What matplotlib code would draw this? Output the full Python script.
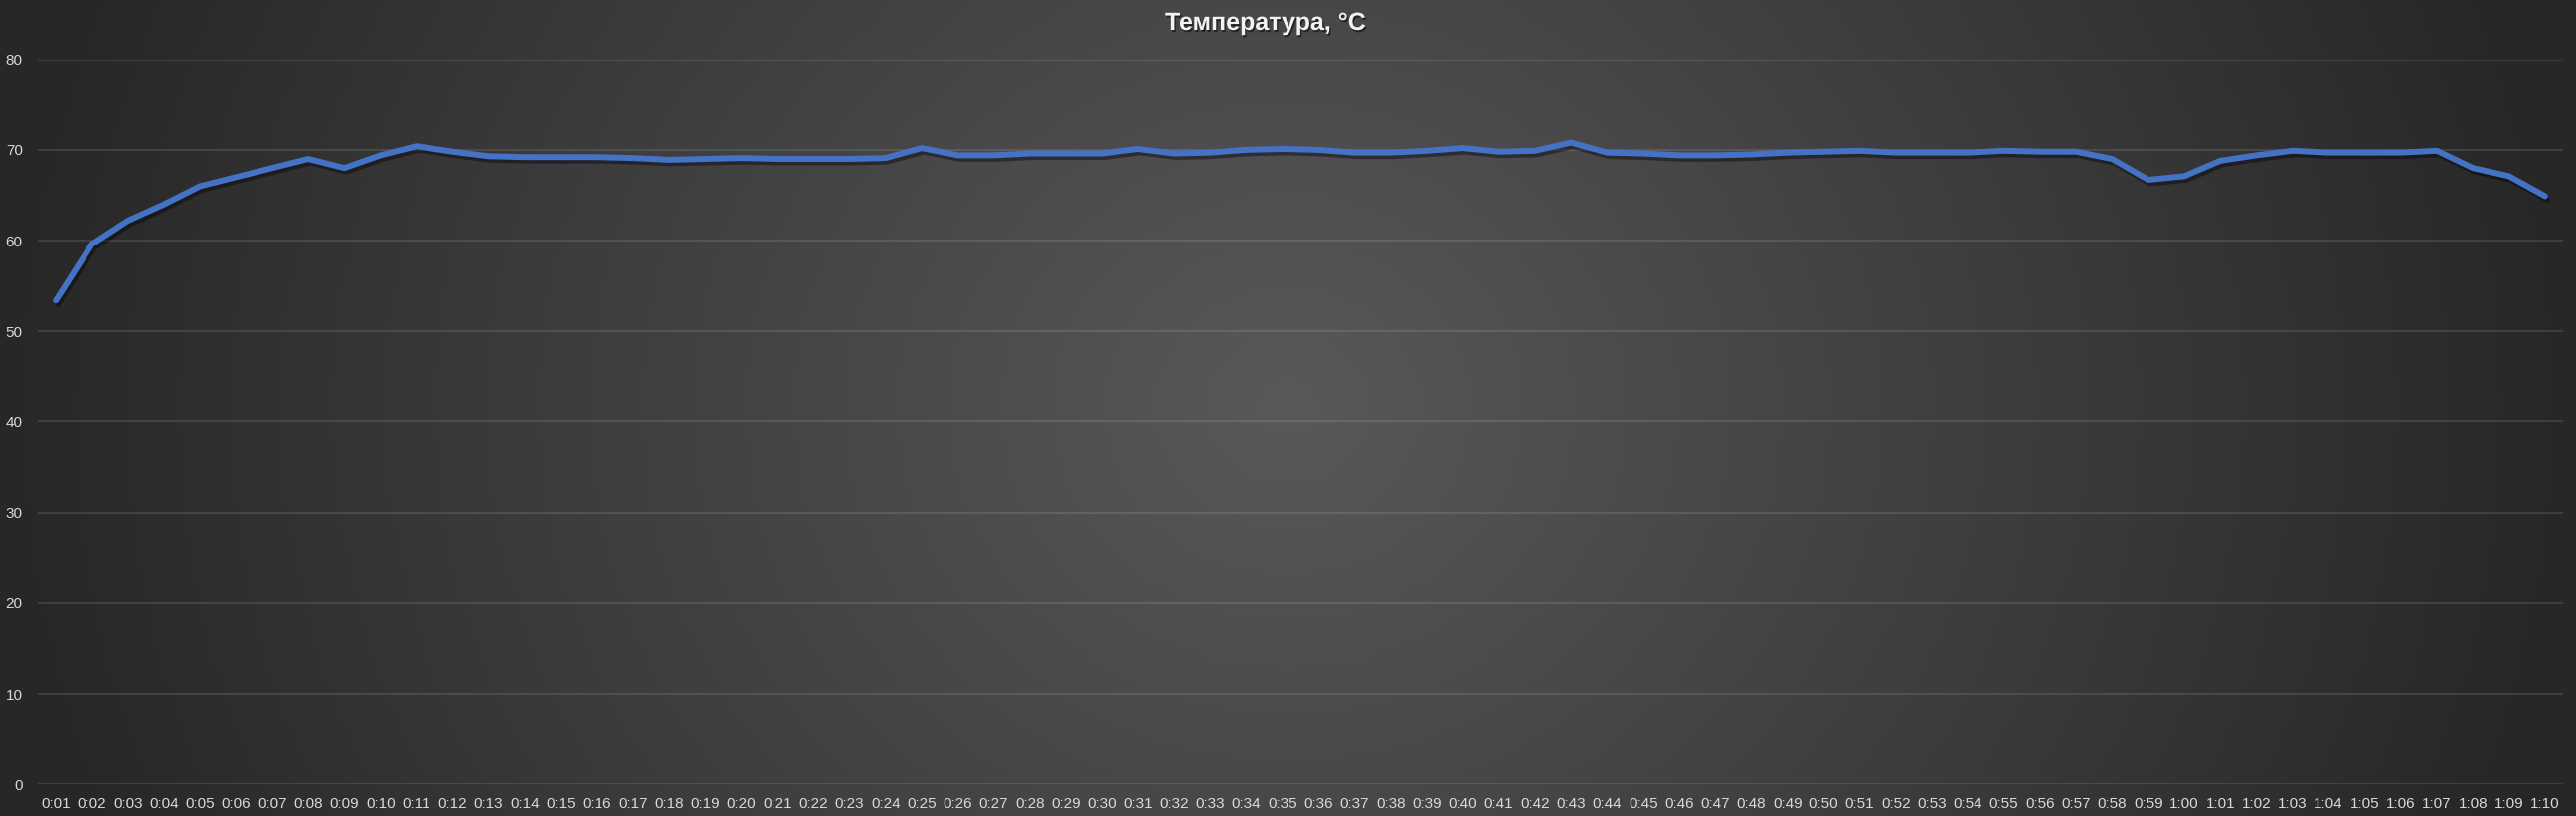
import matplotlib
matplotlib.use("Agg")
import matplotlib.pyplot as plt
import matplotlib.patheffects as pe
import numpy as np

# time labels 0:01 ... 1:10
times = ["0:%02d" % m for m in range(1, 60)] + ["1:%02d" % m for m in range(0, 11)]

temps = [53.4, 59.6, 62.2, 64.0, 66.0, 67.0, 68.0, 69.0, 68.0, 69.4,
         70.4, 69.8, 69.3, 69.2, 69.2, 69.2, 69.1, 68.9, 69.0, 69.1,
         69.0, 69.0, 69.0, 69.1, 70.2, 69.4, 69.4, 69.6, 69.6, 69.6,
         70.1, 69.6, 69.7, 70.0, 70.1, 70.0, 69.7, 69.7, 69.9, 70.2,
         69.8, 69.9, 70.8, 69.7, 69.6, 69.4, 69.4, 69.5, 69.7, 69.8,
         69.9, 69.7, 69.7, 69.7, 69.9, 69.8, 69.8, 69.0, 66.7, 67.1,
         68.8, 69.4, 69.9, 69.7, 69.7, 69.7, 69.9, 68.0, 67.1, 64.9]

yticks = list(range(0, 90, 10))

W, H = 2591, 821
fig = plt.figure(figsize=(W / 100, H / 100), dpi=100)

# radial-ish dark gradient background
bg = fig.add_axes([0, 0, 1, 1], zorder=-1)
gx, gy = np.meshgrid(np.linspace(-1, 1, 600), np.linspace(-1, 1, 200))
r = np.clip(np.sqrt(gx**2 + (0.35 * gy)**2), 0, 1)
c = (0x59 + (0x27 - 0x59) * r) / 255.0
bg.imshow(np.dstack([c, c, c]), extent=[0, 1, 0, 1], aspect="auto")
bg.axis("off")

ax = fig.add_axes([38 / W, 1 - 789.3 / H, (2578 - 38) / W, (789.3 - 59.7) / H])
ax.set_facecolor("none")

x = np.arange(len(temps))
ax.plot(x, temps, color="#4472C4", lw=4.3, solid_joinstyle="round",
        solid_capstyle="round", zorder=3,
        path_effects=[pe.SimpleLineShadow(offset=(1.5, -2.5), shadow_color="black", alpha=0.4),
                      pe.Normal()])

ax.set_xlim(-0.5, len(temps) - 0.5)
ax.set_ylim(0, 80)
ax.set_yticks(yticks)
ax.set_xticks(x)
ax.set_xticklabels(times)
ax.grid(axis="y", color="white", alpha=0.12, lw=1.3)
ax.set_axisbelow(True)
for s in ax.spines.values():
    s.set_visible(False)
ax.tick_params(length=0, colors="#d9d9d9", labelsize=11)
ax.tick_params(axis="y", pad=11)
ax.tick_params(axis="x", pad=9)
for lab in ax.get_xticklabels() + ax.get_yticklabels():
    lab.set_fontfamily("Liberation Sans")

fig.text(1273 / W, 1 - 23 / H, "Температура, °C", ha="center", va="center",
         fontsize=18, fontweight="bold", color="#f2f2f2", family="Liberation Sans",
         path_effects=[pe.withSimplePatchShadow(offset=(1, -1.5), shadow_rgbFace="black", alpha=0.5)])

fig.savefig("out.png", dpi=100)
